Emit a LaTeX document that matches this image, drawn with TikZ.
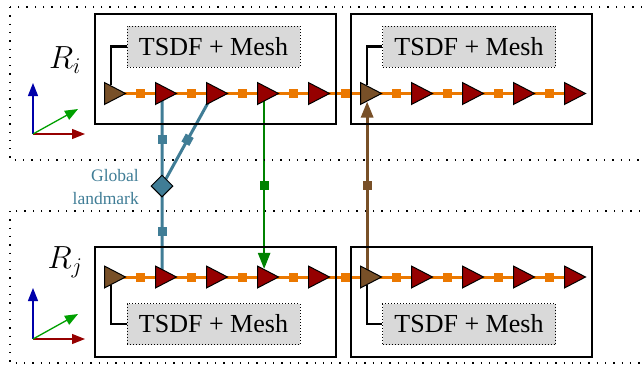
\RequirePackage{fix-cm}
\documentclass[tikz,border=0pt]{standalone}
\usepackage{fontspec}
\setmainfont{Liberation Serif}
\newfontfamily\serifrm{Liberation Serif}
\usetikzlibrary{shapes.geometric,arrows.meta,calc}
\definecolor{redc}{RGB}{150,0,0}
\definecolor{brownc}{RGB}{120,80,40}
\definecolor{orangec}{RGB}{235,120,0}
\definecolor{tealc}{RGB}{64,125,150}
\definecolor{greenc}{RGB}{0,130,0}
\definecolor{grayc}{RGB}{217,217,217}
\definecolor{axblue}{RGB}{0,0,170}
\definecolor{axred}{RGB}{150,0,0}
\definecolor{axgreen}{RGB}{0,160,0}
\pgfdeclarelayer{bg}
\pgfsetlayers{bg,main}
\tikzset{
  tri/.style={isosceles triangle, isosceles triangle apex angle=55, draw=black, line width=1pt,
    inner sep=0pt, minimum width=20pt, minimum height=21pt, anchor=west},
  osq/.style={rectangle, fill=orangec, inner sep=0pt, minimum size=9pt},
  csq/.style={rectangle, inner sep=0pt, minimum size=9pt},
  frame/.style={draw=black, line width=1.2pt},
  region/.style={draw=black, line width=1.3pt, dash pattern=on 1.3pt off 7pt},
  tsdf/.style={rectangle, draw=black, fill=grayc, line width=1pt, dash pattern=on 1pt off 2pt,
    minimum width=173pt, minimum height=41pt, inner sep=0pt, font=\serifrm\fontsize{26}{30}\selectfont},
  blk/.style={draw=black, line width=2.4pt},
  chain/.style={draw=orangec, line width=3pt},
  lm/.style={diamond, draw=black, fill=tealc, line width=1pt, inner sep=0pt, minimum size=22pt},
  ax/.style={line width=1.3pt, -{Triangle[length=13pt,width=10pt]}},
  bigtip/.style={-{Triangle[length=16pt,width=12pt]}},
  rlab/.style={font=\fontsize{32}{38}\selectfont},
  lbl/.style={text=tealc, align=right, font=\serifrm\fontsize{17.5}{23}\selectfont, inner sep=0pt}
}
\begin{document}
\begin{tikzpicture}[x=1pt,y=-1pt]
\useasboundingbox (0,0) rectangle (642,365);
\clip (0,0) rectangle (642,365);
% regions
\draw[region] (10,7) rectangle (700,160);
\draw[region] (10,211) rectangle (700,363);
% frames
\draw[frame] (95,14) rectangle (336,124);
\draw[frame] (351,14) rectangle (592,124);
\draw[frame] (95,247) rectangle (336,357);
\draw[frame] (351,247) rectangle (592,357);
% labels
\node[rlab] (ri) at (65,60) {$R_i$};
\node[rlab] (rj) at (65,262) {$R_j$};
% axes
\foreach \r/\oy in {a/134,b/339} {
  \coordinate (o\r) at (33,\oy);
  \coordinate (ux\r) at (85,\oy);
  \coordinate (uy\r) at (33,\oy-51);
  \coordinate (uz\r) at (78,\oy-25);
  \draw[ax, axred] (o\r) -- (ux\r);
  \draw[ax, axblue] (o\r) -- (uy\r);
  \draw[ax, axgreen] (o\r) -- (uz\r);
}
% triangles
\foreach \k/\x/\c in {1/104/brownc,2/155/redc,3/206/redc,4/257/redc,5/308/redc,6/360/brownc,7/411/redc,8/462/redc,9/513/redc,10/564/redc} {
  \node[tri, fill=\c] (ti\k) at (\x,93.5) {};
  \node[tri, fill=\c] (tj\k) at (\x,277) {};
}
% TSDF boxes
\node[tsdf] (gi1) at (213.5,46.5) {TSDF + Mesh};
\node[tsdf] (gi6) at (469,46.5) {TSDF + Mesh};
\node[tsdf] (gj1) at (213.5,324) {TSDF + Mesh};
\node[tsdf] (gj6) at (469,324) {TSDF + Mesh};
\draw[blk] (gi1.west) -| (ti1);
\draw[blk] (gi6.west) -| (ti6);
\draw[blk] (gj1.west) -| (tj1);
\draw[blk] (gj6.west) -| (tj6);
% landmark
\node[lm] (lmk) at (162,186) {};
\node[lbl, anchor=east] (lt) at (139,187) {Global\\landmark};
\begin{pgfonlayer}{bg}
  \draw[chain] (ti1.center) -- (ti10.center);
  \draw[chain] (tj1.center) -- (tj10.center);
  \foreach \k [evaluate=\k as \n using int(\k+1)] in {1,...,9} {
    \node[osq] at ($(ti\k.apex)!.5!(ti\n.west)$) {};
    \node[osq] at ($(tj\k.apex)!.5!(tj\n.west)$) {};
  }
  \draw[tealc, line width=3pt] (ti2.center) -- node[csq, fill=tealc]{} (lmk.center);
  \draw[tealc, line width=3pt] (lmk.center) -- node[csq, fill=tealc]{} (tj2.center);
  \draw[tealc, line width=3pt] (ti3.center) -- node[csq, fill=tealc, sloped]{} (lmk.center);
  \draw[greenc, line width=2.5pt, bigtip] (ti4.center) -- (tj4);
  \node[csq, fill=greenc] at ($(ti4.center)!.5!(tj4.center)$) {};
  \draw[brownc, line width=3pt, bigtip] (tj6.center) -- (ti6);
  \node[csq, fill=brownc] at ($(ti6.center)!.5!(tj6.center)$) {};
\end{pgfonlayer}
\end{tikzpicture}
\end{document}
